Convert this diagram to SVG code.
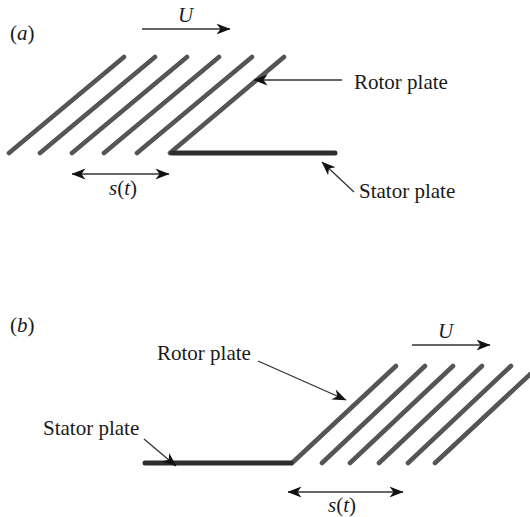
<svg xmlns="http://www.w3.org/2000/svg" width="530" height="517" viewBox="0 0 530 517">
<style>
text{font-family:"Liberation Serif","Times New Roman",serif;font-size:21px;fill:#1a1a1a}
.i{font-style:italic}
.rotor{stroke:#555;stroke-width:4.6px;stroke-linecap:round;fill:none}
.stator{stroke:#2d2d2d;stroke-width:5px;stroke-linecap:round;fill:none}
.lead{stroke:#333;stroke-width:1.3px;fill:none}
</style>
<defs>
<marker id="a" viewBox="0 0 14 12" refX="13.5" refY="6" markerWidth="14" markerHeight="12" markerUnits="userSpaceOnUse" orient="auto-start-reverse">
<path d="M0 0.5L14 6L0 11.5L4 6Z" fill="#111"/>
</marker>
</defs>
<rect width="530" height="517" fill="#fff"/>
<g id="rotor-a">
<path class="rotor" d="M9 153L124 57M40 153L155 57M72 153L187 57M104 153L219 57M137 153L252 57M170 153L284 57"/>
</g>
<g id="stator-a"><path class="stator" d="M172 153H335"/></g>
<g id="rotor-b">
<path class="rotor" d="M292 463L396 366M322 463L425 366M350 463L453 366M379 463L482 366M408 463L511 366M435 463L540 365"/>
</g>
<g id="stator-b"><path class="stator" d="M145 463H291"/></g>
<g id="connectors">
<path class="lead" marker-end="url(#a)" d="M142 29H230"/>
<path class="lead" marker-end="url(#a)" d="M342 80H254"/>
<path class="lead" marker-end="url(#a)" d="M354 192L322 162"/>
<path class="lead" marker-start="url(#a)" marker-end="url(#a)" d="M72 174H169"/>
<path class="lead" marker-end="url(#a)" d="M412 345H490"/>
<path class="lead" marker-end="url(#a)" d="M258 361L346 400"/>
<path class="lead" marker-end="url(#a)" d="M144 439L176 466"/>
<path class="lead" marker-start="url(#a)" marker-end="url(#a)" d="M288 492H403"/>
</g>
<g id="labels">
<text x="10" y="40">(<tspan class="i">a</tspan>)</text>
<text class="i" x="178" y="22">U</text>
<text x="354" y="89">Rotor plate</text>
<text x="359" y="198">Stator plate</text>
<text x="109" y="195"><tspan class="i">s</tspan>(<tspan class="i">t</tspan>)</text>
<text x="10" y="332">(<tspan class="i">b</tspan>)</text>
<text x="157" y="360">Rotor plate</text>
<text x="43" y="435">Stator plate</text>
<text class="i" x="438" y="338">U</text>
<text x="328" y="512"><tspan class="i">s</tspan>(<tspan class="i">t</tspan>)</text>
</g>
</svg>
